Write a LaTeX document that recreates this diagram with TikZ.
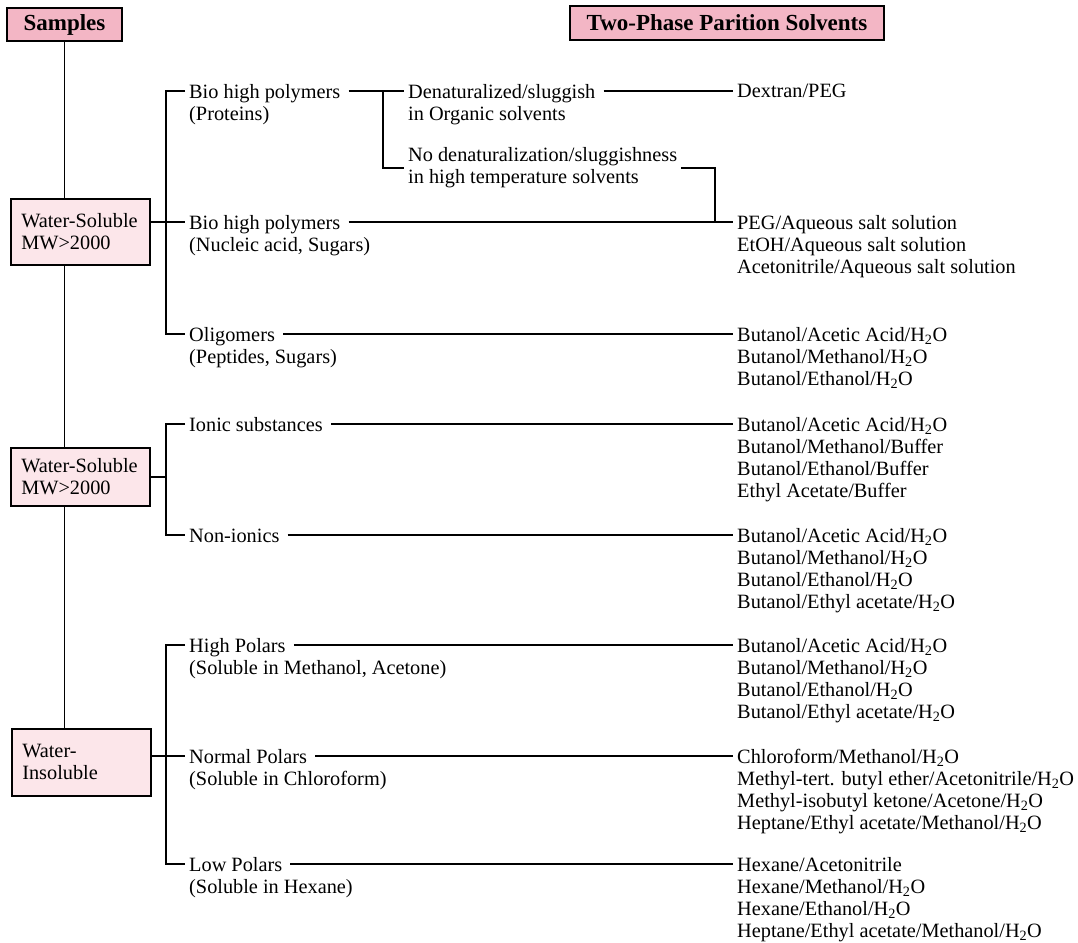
\documentclass[tikz,border=0pt]{standalone}
\usepackage{fontspec}
\setmainfont{Liberation Serif}
\newcommand\txtfont{\fontsize{20.3}{22}\selectfont}
\newcommand\mylines[1]{\begin{tabular}[t]{@{}l@{}}#1\end{tabular}}
\newcommand\HtwoO{H\textsubscript{2}O}
\definecolor{hdrpink}{RGB}{243,182,197}
\definecolor{boxpink}{RGB}{252,230,234}
\begin{document}
\begin{tikzpicture}[x=1pt,y=-1pt,
  lbl/.style={anchor=base west, inner xsep=4pt, inner ysep=0pt, text height=16pt, text depth=2pt, font=\txtfont},
  sol/.style={anchor=base west, inner xsep=4pt, inner ysep=0pt, font=\txtfont},
  hbox/.style={draw, fill=hdrpink, line width=1.6pt, inner sep=0pt, font=\bfseries\fontsize{23}{26}\selectfont},
  wbox/.style={draw, fill=boxpink, line width=1.6pt, anchor=north west, align=left, text width=118pt, inner xsep=10.5pt, font=\txtfont},
  conn/.style={line width=1.7pt},
  link/.style={conn, shorten <=4pt}]
\useasboundingbox (0,0) rectangle (1078,942);

% headers
\node[hbox, minimum width=115pt, minimum height=33pt] (samples) at (64.5,24.5) {Samples};
\node[hbox, minimum width=314pt, minimum height=34pt] (tps) at (727,23) {Two-Phase Parition Solvents};

% sample class boxes
\node[wbox, minimum height=66pt] (wb1) at (10,198) {Water-Soluble\\MW>2000};
\node[wbox, minimum height=58pt] (wb2) at (10,447) {Water-Soluble\\MW>2000};
\node[wbox, minimum height=67pt] (wb3) at (11,728) {Water-\\Insoluble};

% bracket coordinates
\coordinate (b1) at (166,0);
\coordinate (b4) at (383,0);
\coordinate (b5) at (715,0);

% sample subclasses
\node[lbl] (bio1) at (185,98) {Bio high polymers};
\node[lbl] (bio1s) at ([yshift=-22pt]bio1.base west) {(Proteins)};
\node[lbl] (bio2) at (185,229) {Bio high polymers};
\node[lbl] (bio2s) at ([yshift=-22pt]bio2.base west) {(Nucleic acid, Sugars)};
\node[lbl] (olig) at (185,341) {Oligomers};
\node[lbl] (oligs) at ([yshift=-22pt]olig.base west) {(Peptides, Sugars)};
\node[lbl] (ionic) at (185,431) {Ionic substances};
\node[lbl] (nonion) at (185,542) {Non-ionics};
\node[lbl] (highp) at (185,652) {High Polars};
\node[lbl] (highps) at ([yshift=-22pt]highp.base west) {(Soluble in Methanol, Acetone)};
\node[lbl] (normp) at (185,763) {Normal Polars};
\node[lbl] (normps) at ([yshift=-22pt]normp.base west) {(Soluble in Chloroform)};
\node[lbl] (lowp) at (185,871) {Low Polars};
\node[lbl] (lowps) at ([yshift=-22pt]lowp.base west) {(Soluble in Hexane)};

% protein sub-branches
\node[lbl] (den) at (404,98) {Denaturalized/sluggish};
\node[lbl] (dens) at ([yshift=-22pt]den.base west) {in Organic solvents};
\node[sol, anchor=west] (noden) at (404,168) {\mylines{No denaturalization/sluggishness\\in high temperature solvents}};

% solvents
\node[sol] (dex) at (733,97) {\mylines{Dextran/PEG}};
\node[sol] (peg) at (733,229) {\mylines{PEG/Aqueous salt solution\\EtOH/Aqueous salt solution\\Acetonitrile/Aqueous salt solution}};
\node[sol] (s3) at (733,341) {\mylines{Butanol/Acetic Acid/\HtwoO\\Butanol/Methanol/\HtwoO\\Butanol/Ethanol/\HtwoO}};
\node[sol] (s4) at (733,431) {\mylines{Butanol/Acetic Acid/\HtwoO\\Butanol/Methanol/Buffer\\Butanol/Ethanol/Buffer\\Ethyl Acetate/Buffer}};
\node[sol] (s5) at (733,542) {\mylines{Butanol/Acetic Acid/\HtwoO\\Butanol/Methanol/\HtwoO\\Butanol/Ethanol/\HtwoO\\Butanol/Ethyl acetate/\HtwoO}};
\node[sol] (s6) at (733,652) {\mylines{Butanol/Acetic Acid/\HtwoO\\Butanol/Methanol/\HtwoO\\Butanol/Ethanol/\HtwoO\\Butanol/Ethyl acetate/\HtwoO}};
\node[sol] (s7) at (733,763) {\mylines{Chloroform/Methanol/\HtwoO\\Methyl-tert. butyl ether/Acetonitrile/\HtwoO\\Methyl-isobutyl ketone/Acetone/\HtwoO\\Heptane/Ethyl acetate/Methanol/\HtwoO}};
\node[sol] (s8) at (733,871) {\mylines{Hexane/Acetonitrile\\Hexane/Methanol/\HtwoO\\Hexane/Ethanol/\HtwoO\\Heptane/Ethyl acetate/Methanol/\HtwoO}};

% main trunk
\draw[conn] (samples.south) -- (samples.south |- wb1.north);
\draw[conn] (samples.south |- wb1.south) -- (samples.south |- wb2.north);
\draw[conn] (samples.south |- wb2.south) -- (samples.south |- wb3.north);

% brackets
\draw[conn] (bio1.west) -- (bio1.west -| b1) -- (olig.west -| b1) -- (olig.west);
\draw[conn] (wb1.east |- bio2.west) -- (bio2.west);
\draw[conn] (ionic.west) -- (ionic.west -| b1) -- (nonion.west -| b1) -- (nonion.west);
\draw[conn] (wb2.east) -- (wb2.east -| b1);
\draw[conn] (highp.west) -- (highp.west -| b1) -- (lowp.west -| b1) -- (lowp.west);
\draw[conn] (wb3.east |- normp.west) -- (normp.west);

% protein sub-bracket
\draw[link] (bio1.east) -- (den.west);
\draw[conn] (bio1.east -| b4) -- (noden.west -| b4) -- (noden.west);
\draw[link] (den.east) -- (den.east -| dex.west);
\draw[conn] (noden.east) -- (noden.east -| b5) -- (bio2.east -| b5);

% to solvents
\draw[link] (bio2.east) -- (bio2.east -| peg.west);
\draw[link] (olig.east) -- (olig.east -| s3.west);
\draw[link] (ionic.east) -- (ionic.east -| s4.west);
\draw[link] (nonion.east) -- (nonion.east -| s5.west);
\draw[link] (highp.east) -- (highp.east -| s6.west);
\draw[link] (normp.east) -- (normp.east -| s7.west);
\draw[link] (lowp.east) -- (lowp.east -| s8.west);
\end{tikzpicture}
\end{document}
